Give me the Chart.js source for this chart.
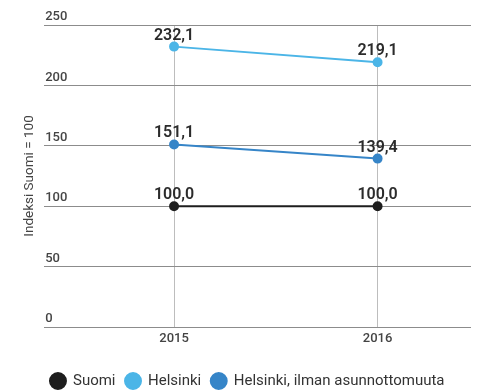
<!DOCTYPE html>
<html>
<head>
<meta charset="utf-8">
<script src="https://cdn.jsdelivr.net/npm/chart.js@4/dist/chart.umd.min.js"></script>
<style>
  html, body { margin: 0; padding: 0; background: #fff; }
  #wrap { width: 477px; height: 390px; }
</style>
</head>
<body>
<div id="wrap"><canvas id="indexChart"></canvas></div>
<script>
const years = [2015, 2016];
const suomi = [100.0, 100.0];
const helsinki = [232.1, 219.1];
const helsinkiNoHomeless = [151.1, 139.4];
const yTicks = [0, 50, 100, 150, 200, 250];

const fontFamily = 'Roboto, "Noto Sans", sans-serif';

function pts(values) {
    return years.map((y, i) => ({ x: y, y: values[i] }));
}

// prints each point's value above it, Finnish decimal comma
const valueLabels = {
    id: 'valueLabels',
    afterDatasetsDraw(chart) {
        const ctx = chart.ctx;
        ctx.save();
        ctx.font = '600 16px ' + fontFamily;
        ctx.fillStyle = '#2b2b2b';
        ctx.textAlign = 'center';
        ctx.textBaseline = 'bottom';
        chart.data.datasets.forEach((ds, di) => {
            const meta = chart.getDatasetMeta(di);
            meta.data.forEach((pt, i) => {
                const v = ds.data[i].y;
                ctx.fillText(v.toFixed(1).replace('.', ','), pt.x, pt.y - 3);
            });
        });
        ctx.restore();
    }
};

new Chart(document.getElementById('indexChart').getContext('2d'), {
    type: 'line',
    data: {
        datasets: [
            { label: 'Suomi', data: pts(suomi), borderColor: '#1e1e1e', backgroundColor: '#1e1e1e', borderWidth: 2, pointRadius: 4 },
            { label: 'Helsinki', data: pts(helsinki), borderColor: '#4bb5e7', backgroundColor: '#4bb5e7', borderWidth: 2, pointRadius: 4 },
            { label: 'Helsinki, ilman asunnottomuuta', data: pts(helsinkiNoHomeless), borderColor: '#3685c8', backgroundColor: '#3685c8', borderWidth: 2, pointRadius: 4 }
        ]
    },
    options: {
        responsive: true,
        maintainAspectRatio: false,
        animation: false,
        layout: { padding: { left: 18, right: 0, top: 25, bottom: -8.5 } },
        plugins: {
            tooltip: { enabled: false },
            legend: {
                position: 'bottom',
                labels: {
                    usePointStyle: true,
                    pointStyle: 'circle',
                    boxHeight: 11.3,
                    padding: 10,
                    color: '#333',
                    font: { family: fontFamily, size: 15 }
                }
            }
        },
        scales: {
            x: {
                type: 'linear',
                min: 2014.362,
                max: 2016.459,
                afterBuildTicks: (scale) => { scale.ticks = years.map((v) => ({ value: v })); },
                afterFit: (scale) => { scale.height = 36.5; },
                grid: { color: '#bdbdbd', drawTicks: false },
                border: { display: false },
                ticks: {
                    callback: (v) => String(v),
                    padding: 4,
                    color: '#444',
                    font: { family: fontFamily, size: 13, weight: '500' }
                }
            },
            y: {
                min: 0,
                max: 250,
                afterBuildTicks: (scale) => { scale.ticks = yTicks.map((v) => ({ value: v })); },
                grid: { color: '#8c8c8c', drawTicks: false },
                border: { display: false },
                title: {
                    display: true,
                    text: 'Indeksi Suomi = 100',
                    color: '#444',
                    font: { family: fontFamily, size: 13.5 }
                },
                ticks: {
                    mirror: true,
                    padding: 1,
                    labelOffset: -8,
                    color: '#444',
                    font: { family: fontFamily, size: 13, weight: '500' }
                }
            }
        }
    },
    plugins: [valueLabels]
});
</script>
</body>
</html>
